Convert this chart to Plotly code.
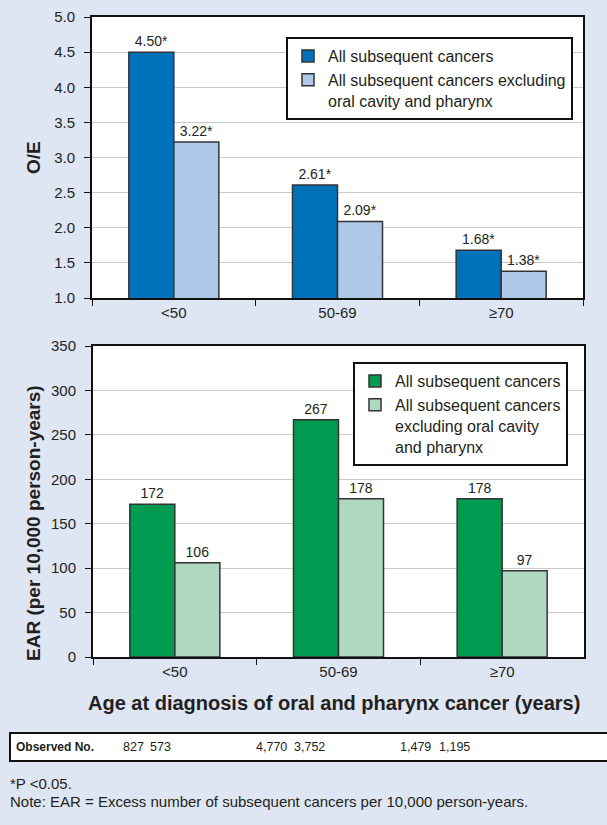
import plotly.graph_objects as go

# ---------------- data ----------------
age_groups = ["<50", "50-69", "\u226570"]
oe_all = [4.50, 2.61, 1.68]
oe_excl = [3.22, 2.09, 1.38]
ear_all = [172, 267, 178]
ear_excl = [106, 178, 97]
observed_no = ["827", "573", "4,770", "3,752", "1,479", "1,195"]
oe_ticks = [1.0, 1.5, 2.0, 2.5, 3.0, 3.5, 4.0, 4.5, 5.0]
ear_ticks = [0, 50, 100, 150, 200, 250, 300, 350]

name_all = "All subsequent cancers"
name_excl_top = "All subsequent cancers excluding<br>oral cavity and pharynx"
name_excl_bot = "All subsequent cancers<br>excluding oral cavity<br>and pharynx"

# ---------------- style ----------------
W, H = 607, 825
FONT = "Liberation Sans, Arial, Helvetica, sans-serif"
BG = "#DEE6F3"
C_BLUE, C_LBLUE = "#0072BC", "#AEC8E8"
C_GREEN, C_LGREEN = "#009B50", "#AFD8C0"
TXT = "#231F20"


def px(x):
    return x / W


def py(y):
    return 1 - y / H


fig = go.Figure()

bar_line = dict(color="#333333", width=1.5)
lab_font = dict(size=14, color=TXT, family=FONT)

fig.add_trace(go.Bar(x=age_groups, y=oe_all, name=name_all, marker=dict(color=C_BLUE, line=bar_line),
                     text=[f"{v:.2f}*" for v in oe_all], textposition="outside",
                     textfont=lab_font, cliponaxis=False,
                     xaxis="x", yaxis="y", legend="legend"))
fig.add_trace(go.Bar(x=age_groups, y=oe_excl, name=name_excl_top, marker=dict(color=C_LBLUE, line=bar_line),
                     text=[f"{v:.2f}*" for v in oe_excl], textposition="outside",
                     textfont=lab_font, cliponaxis=False,
                     xaxis="x", yaxis="y", legend="legend"))
fig.add_trace(go.Bar(x=age_groups, y=ear_all, name=name_all, marker=dict(color=C_GREEN, line=bar_line),
                     text=[str(v) for v in ear_all], textposition="outside",
                     textfont=lab_font, cliponaxis=False,
                     xaxis="x2", yaxis="y2", legend="legend2"))
fig.add_trace(go.Bar(x=age_groups, y=ear_excl, name=name_excl_bot, marker=dict(color=C_LGREEN, line=bar_line),
                     text=[str(v) for v in ear_excl], textposition="outside",
                     textfont=lab_font, cliponaxis=False,
                     xaxis="x2", yaxis="y2", legend="legend2"))

axis_common = dict(showline=True, linecolor="#111111", linewidth=2, mirror=True,
                   ticks="outside", ticklen=6, tickcolor="#111111", automargin=False,
                   tickfont=dict(size=15, color=TXT, family=FONT))

fig.update_layout(
    width=W, height=H, autosize=False,
    margin=dict(l=0, r=0, t=0, b=0, pad=0),
    paper_bgcolor=BG, plot_bgcolor="white",
    font=dict(family=FONT, color=TXT),
    barmode="group", bargap=0.45, bargroupgap=0,
    xaxis=dict(domain=[px(92), px(583)], anchor="y", type="category", tickson="boundaries",
               showgrid=False, **axis_common),
    yaxis=dict(domain=[py(298), py(17)], anchor="x", range=[1, 5], tickvals=oe_ticks,
               tickformat=".1f", showgrid=True, gridcolor="#C9C9C9", gridwidth=1,
               ticklabelstandoff=6, **axis_common),
    xaxis2=dict(domain=[px(93), px(584)], anchor="y2", type="category", tickson="boundaries",
                showgrid=False, **axis_common),
    yaxis2=dict(domain=[py(657), py(346)], anchor="x2", range=[0, 350], tickvals=ear_ticks,
                showgrid=True, gridcolor="#C9C9C9", gridwidth=1,
                ticklabelstandoff=6, **axis_common),
    legend=dict(x=px(286), y=py(37), xanchor="left", yanchor="top", bgcolor="white",
                bordercolor="#111111", borderwidth=2, valign="top", tracegroupgap=0,
                font=dict(size=16, color=TXT, family=FONT)),
    legend2=dict(x=px(353), y=py(362), xanchor="left", yanchor="top", bgcolor="white",
                 bordercolor="#111111", borderwidth=2, valign="top", tracegroupgap=0,
                 font=dict(size=16, color=TXT, family=FONT)),
    showlegend=True,
)

# axis titles
fig.add_annotation(text="<b>O/E</b>", x=px(33), y=py(158), xref="paper", yref="paper",
                   xanchor="center", yanchor="middle",
                   textangle=-90, showarrow=False, font=dict(size=19, color=TXT, family=FONT))
fig.add_annotation(text="<b>EAR (per 10,000 person-years)</b>", x=px(33), y=py(523), xref="paper",
                   yref="paper", xanchor="center", yanchor="middle",
                   textangle=-90, showarrow=False, font=dict(size=19, color=TXT, family=FONT))
fig.add_annotation(text="<b>Age at diagnosis of oral and pharynx cancer (years)</b>", x=px(334), y=py(703),
                   xref="paper", yref="paper", xanchor="center", yanchor="middle",
                   showarrow=False, font=dict(size=20, color=TXT, family=FONT))

# observed-number table
fig.add_shape(type="rect", xref="paper", yref="paper", x0=px(10), x1=px(620), y0=py(761), y1=py(733),
              fillcolor="white", line=dict(color="#111111", width=2))
fig.add_annotation(text="<b>Observed No.</b>", x=px(14), y=py(747), xref="paper", yref="paper",
                   xanchor="left", yanchor="middle", showarrow=False,
                   font=dict(size=12, color=TXT, family=FONT))
obs_x = [121, 148, 254, 292, 398, 437]
for val, xp in zip(observed_no, obs_x):
    fig.add_annotation(text=val, x=px(xp), y=py(747), xref="paper", yref="paper",
                       xanchor="left", yanchor="middle", showarrow=False,
                       font=dict(size=12.5, color=TXT, family=FONT))

# footnotes
fig.add_annotation(text="*P <0.05.", x=px(8), y=py(783), xref="paper", yref="paper",
                   xanchor="left", yanchor="middle", showarrow=False,
                   font=dict(size=15, color=TXT, family=FONT))
fig.add_annotation(text="Note: EAR = Excess number of subsequent cancers per 10,000 person-years.",
                   x=px(8), y=py(801), xref="paper", yref="paper",
                   xanchor="left", yanchor="middle", showarrow=False,
                   font=dict(size=15, color=TXT, family=FONT))

fig.write_html("out.html", config={"displayModeBar": False},
               post_script="document.body.style.margin='0px';")
